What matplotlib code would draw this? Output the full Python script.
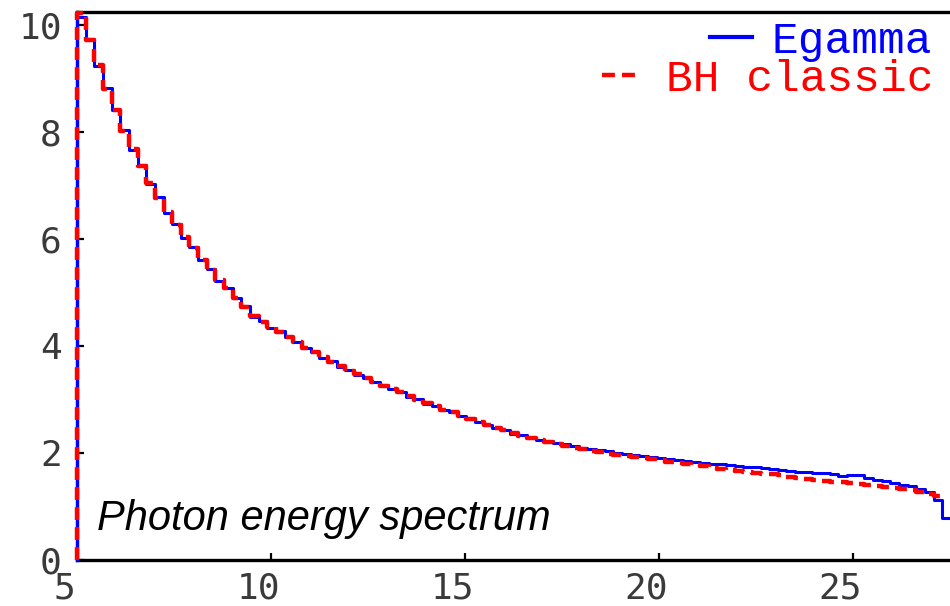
import numpy as np
import matplotlib
matplotlib.use('Agg')
import matplotlib.pyplot as plt
from matplotlib.transforms import ScaledTranslation

# histogram binning (GeV)
e_min = 5.0
bin_width = 0.223

# BH classic, 100 bins
bh_classic = [
    10.22, 9.72, 9.25, 8.80, 8.41, 8.02, 7.68, 7.36, 7.05, 6.77,
    6.50, 6.26, 6.04, 5.83, 5.61, 5.42, 5.23, 5.08, 4.90, 4.73,
    4.56, 4.45, 4.35, 4.26, 4.17, 4.07, 3.97, 3.88, 3.79, 3.70,
    3.62, 3.54, 3.47, 3.40, 3.33, 3.26, 3.20, 3.13, 3.06, 2.99,
    2.93, 2.87, 2.81, 2.76, 2.70, 2.64, 2.58, 2.52, 2.47, 2.42,
    2.37, 2.32, 2.28, 2.24, 2.20, 2.17, 2.13, 2.10, 2.07, 2.04,
    2.01, 1.99, 1.96, 1.94, 1.92, 1.90, 1.88, 1.86, 1.84, 1.81,
    1.79, 1.77, 1.75, 1.72, 1.70, 1.68, 1.66, 1.64, 1.63, 1.61,
    1.60, 1.58, 1.56, 1.54, 1.52, 1.50, 1.48, 1.46, 1.45, 1.44,
    1.42, 1.40, 1.38, 1.37, 1.35, 1.33, 1.30, 1.27, 1.24, 1.20,
]

# Egamma, 101 bins (one more at the high end)
egamma = [
    10.15, 9.74, 9.23, 8.82, 8.40, 8.04, 7.66, 7.38, 7.03, 6.79,
    6.48, 6.27, 6.02, 5.84, 5.60, 5.43, 5.22, 5.09, 4.89, 4.74,
    4.55, 4.46, 4.34, 4.27, 4.16, 4.08, 3.96, 3.89, 3.78, 3.71,
    3.61, 3.55, 3.46, 3.41, 3.32, 3.27, 3.19, 3.14, 3.05, 3.00,
    2.92, 2.88, 2.80, 2.77, 2.69, 2.65, 2.57, 2.53, 2.46, 2.43,
    2.36, 2.33, 2.28, 2.25, 2.22, 2.19, 2.16, 2.13, 2.10, 2.07,
    2.05, 2.03, 2.00, 1.98, 1.96, 1.94, 1.92, 1.91, 1.89, 1.87,
    1.85, 1.84, 1.82, 1.80, 1.79, 1.77, 1.76, 1.74, 1.73, 1.71,
    1.70, 1.68, 1.67, 1.65, 1.64, 1.63, 1.62, 1.60, 1.57, 1.58,
    1.59, 1.54, 1.50, 1.47, 1.44, 1.41, 1.38, 1.33, 1.27, 1.12,
    0.78,
]

x_ticks = [5, 10, 15, 20, 25]
y_ticks = [0, 2, 4, 6, 8, 10]


def step_xy(values):
    # bin edges plus a leading point at zero so the first edge is drawn
    n = len(values)
    edges = e_min + bin_width * np.arange(n + 1)
    xs = np.concatenate([[edges[0]], edges])
    ys = np.concatenate([[0.0], values, [values[-1]]])
    return xs, ys


fig = plt.figure(figsize=(9.5, 6.06), dpi=100)
ax = fig.add_axes([77 / 950, 46 / 606, 873 / 950, 548 / 606])

xs, ys = step_xy(egamma)
blue_line, = ax.step(xs, ys, where='post', color='#0000ff', lw=2.2, label='Egamma',
                     zorder=3, clip_on=False)
xs, ys = step_xy(bh_classic)
red_line, = ax.step(xs, ys, where='post', color='#ff0000', lw=3.2,
                    linestyle=(0, (2.9, 1.6)), label='BH classic', zorder=3, clip_on=False)

ax.set_xlim(5, 27.5)
ax.set_ylim(0, 10.24)
ax.set_xticks(x_ticks)
ax.set_yticks(y_ticks)

ax.spines['right'].set_visible(False)
for side in ['top', 'bottom', 'left']:
    ax.spines[side].set_linewidth(2.4)
ax.tick_params(direction='in', length=5, width=1.6, color='black',
               labelsize=26, labelcolor='#3a3a3a')
ax.tick_params(axis='y', pad=11)
ax.tick_params(axis='x', pad=8)
for lab in ax.get_xticklabels() + ax.get_yticklabels():
    lab.set_fontfamily('DejaVu Sans Mono')
for lab in ax.get_xticklabels():
    lab.set_transform(lab.get_transform() + ScaledTranslation(-0.13, 0, fig.dpi_scale_trans))

ax.text(5.515, 0.56, 'Photon energy spectrum', fontsize=30, style='italic',
        family='Liberation Sans', va='baseline', ha='left')

leg_font = {'family': 'Liberation Mono', 'size': 32}
leg1 = ax.legend(handles=[blue_line], loc='upper right',
                 bbox_to_anchor=(932 / 950, (606 - 21) / 606), bbox_transform=fig.transFigure,
                 frameon=False, prop=leg_font, labelcolor='linecolor',
                 handlelength=0.95, handletextpad=0.44, borderpad=0, borderaxespad=0)
leg1.get_lines()[0].set_linewidth(3.0)
ax.add_artist(leg1)
leg2 = ax.legend(handles=[red_line], loc='upper right',
                 bbox_to_anchor=(934 / 950, (606 - 59) / 606), bbox_transform=fig.transFigure,
                 frameon=False, prop=leg_font, labelcolor='linecolor',
                 handlelength=0.9, handletextpad=0.55, borderpad=0, borderaxespad=0)

fig.savefig('out.png', dpi=100)
